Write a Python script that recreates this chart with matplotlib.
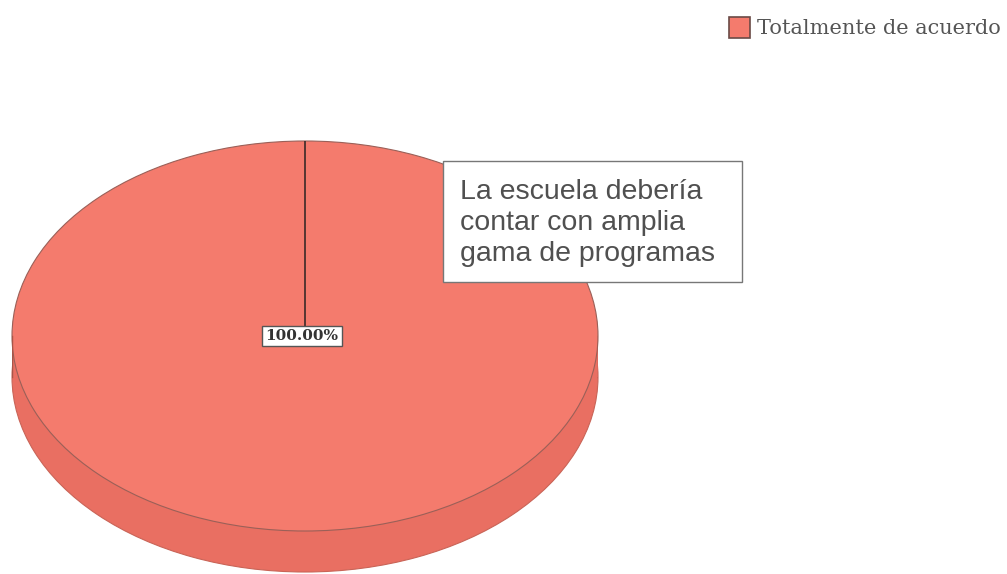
import matplotlib
matplotlib.use("Agg")
import matplotlib.pyplot as plt
from matplotlib.patches import Rectangle
import numpy as np

categories = ["Totalmente de acuerdo"]
values = [100.0]
title_note = "La escuela debería\ncontar con amplia\ngama de programas"

W, H = 1007, 574
fig = plt.figure(figsize=(W / 100, H / 100), dpi=100)
fig.patch.set_facecolor("white")

top_color = "#F47B6D"
side_color = "#E96F62"
edge_color = "#8a5a54"

# pie geometry in pixels
x0, x1 = 12, 598
ytop, ybot = 141, 572
ry = 195.0
depth = (ybot - ytop) - 2 * ry
dfrac = depth / ry

pax = fig.add_axes([x0 / W, 1 - ybot / H, (x1 - x0) / W, (ybot - ytop) / H])
# side (3D depth)
pax.pie(values, colors=[side_color], center=(0, -dfrac), startangle=90,
        counterclock=False, wedgeprops=dict(edgecolor="#c96457", linewidth=0.8))
pax.add_patch(Rectangle((-1, -dfrac), 2, dfrac, facecolor=side_color, edgecolor="none"))
pax.plot([-1, -1], [-dfrac, 0], color="#a85548", lw=1.0)
pax.plot([1, 1], [-dfrac, 0], color="#a85548", lw=1.0)
# top face
wedges, texts, autotexts = pax.pie(
    values, colors=[top_color], startangle=90, counterclock=False,
    autopct="%.2f%%", pctdistance=0.0,
    wedgeprops=dict(edgecolor="#9a6058", linewidth=0.8),
    textprops=dict(family="DejaVu Serif", fontsize=11, fontweight="bold", color="#333333"))
for t in autotexts:
    t.set_bbox(dict(boxstyle="square,pad=0.22", facecolor="white", edgecolor="#555555", linewidth=1.0))
    t.set_position((-0.01, 0.0))
    t.set_zorder(5)
# radial line at start angle (90 degrees)
th = np.deg2rad(90)
pax.plot([0, np.cos(th)], [0, np.sin(th)], color="#3a2a28", lw=1.2, zorder=2)
pax.set_aspect("auto")
pax.set_xlim(-1, 1)
pax.set_ylim(-1 - dfrac, 1)
pax.axis("off")

# overlay axes in pixel coords for annotation and legend
ax = fig.add_axes([0, 0, 1, 1], facecolor="none")
ax.set_xlim(0, W)
ax.set_ylim(H, 0)
ax.axis("off")

ax.add_patch(Rectangle((443, 161), 299, 121, facecolor="white", edgecolor="#777777", linewidth=1.0))
ax.text(460, 223, title_note, ha="left", va="center", fontsize=20.5,
        family="Liberation Sans", color="#505050", linespacing=1.27)

# legend
ax.add_patch(Rectangle((729, 17), 21, 21, facecolor=top_color, edgecolor="#6a4a46", linewidth=1.2))
ax.text(757, 28, categories[0], ha="left", va="center", fontsize=15,
        family="DejaVu Serif", color="#555555")

fig.savefig("out.png", dpi=100, facecolor="white")
